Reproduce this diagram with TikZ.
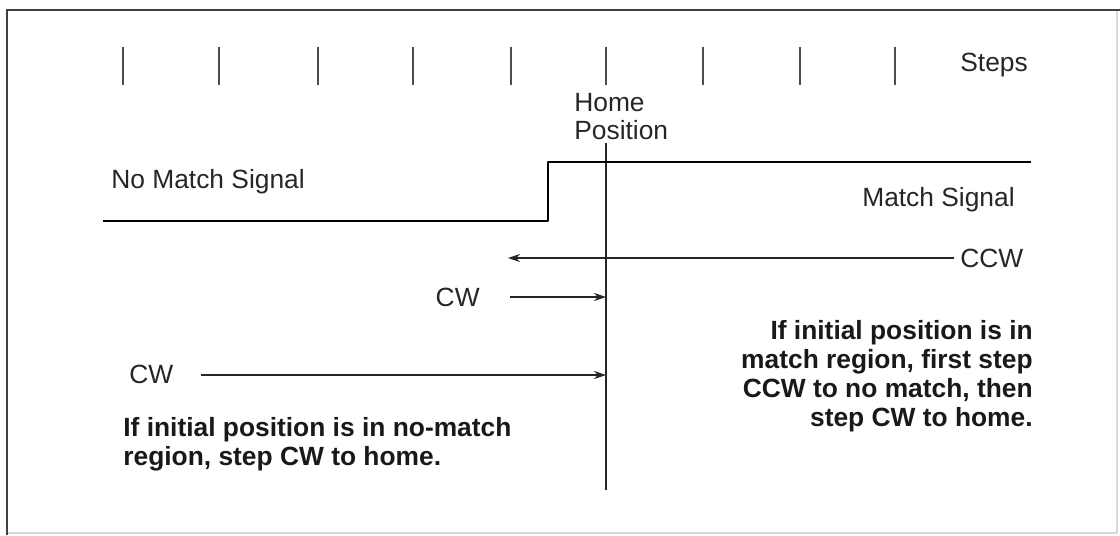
\documentclass[tikz,border=0pt]{standalone}
\usepackage{fontspec}
\setmainfont{Liberation Sans}
\usepackage{tikz}
\usetikzlibrary{arrows.meta, positioning, calc}

\tikzset{
  lbl/.style={inner sep=0pt, text=black!85, font=\fontsize{15}{16}\selectfont},
  note/.style={inner sep=0pt, text=black!90, font=\fontsize{15}{16.5}\selectfont\bfseries},
  tickmark/.style={black!70, line width=0.8pt},
  sigline/.style={black, line width=1.6pt, line join=round},
  dirline/.style={black!85, line width=0.7pt, -{Stealth[length=2.4mm, width=1.6mm]}},
}

\begin{document}
\begin{tikzpicture}[x=0.02cm, y=-0.02cm]
  \useasboundingbox (0,0) rectangle (1120,535);
  % frame
  \draw[black!15, line width=0.6pt] (7,533) -- (1117,533) -- (1117,10);
  \draw[black!75, line width=1.2pt] (7,535) |- (1120,10);
  % step ticks
  \foreach \x in {123,219,318,413,511,606,703,800,895} {
    \draw[tickmark] (\x,47) -- (\x,85);
  }
  \node[lbl, anchor=west] (steps) at (960,65) {Steps};
  % home position
  \coordinate (hometop) at (606,143);
  \coordinate (homebot) at (606,490);
  \draw[black!85, line width=0.8pt] (hometop) -- (homebot);
  \node[lbl, anchor=west, align=left] (home) at (574,117) {Home\\Position};
  % match signal
  \coordinate (siglo) at (103,221);
  \coordinate (sigstep) at (548,221);
  \coordinate (sighi) at (1031,162);
  \draw[sigline] (siglo) -- (sigstep) |- (sighi);
  \node[lbl, anchor=west] (nomatch) at (111,182) {No Match Signal};
  \node[lbl, anchor=east] (match) at (1015,200) {Match Signal};
  % direction arrows
  \node[lbl, anchor=west] (ccw) at (960,258) {CCW};
  \coordinate (ccwtip) at (508,258);
  \draw[dirline] (ccw.west) ++(-6,0) -- (ccwtip);
  \node[lbl, anchor=east] (cwa) at (480,297) {CW};
  \coordinate (cwastart) at (510,297);
  \draw[dirline] (cwastart) -- (cwastart -| homebot);
  \node[lbl, anchor=west] (cwb) at (129,374) {CW};
  \coordinate (cwbstart) at (201,375);
  \draw[dirline] (cwbstart) -- (cwbstart -| homebot);
  % notes
  \node[note, anchor=west, align=left] (nomatchnote) at (123,444)
    {If initial position is in no-match\\region, step CW to home.};
  \node[note, anchor=east, align=right] (matchnote) at (1033,376)
    {If initial position is in\\match region, first step\\CCW to no match, then\\step CW to home.};
\end{tikzpicture}
\end{document}
